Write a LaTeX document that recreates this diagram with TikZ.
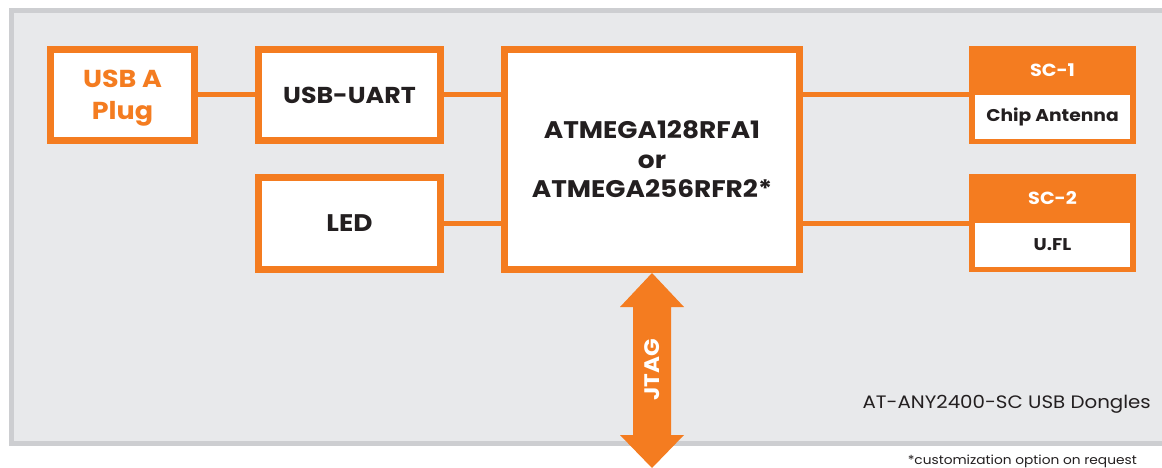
\documentclass[tikz,border=0pt]{standalone}
\usepackage{fontspec}
\setmainfont{Poppins}[FakeStretch=1.1]
\usetikzlibrary{calc}
\definecolor{org}{RGB}{244,124,32}
\definecolor{panel}{RGB}{232,233,235}
\definecolor{panelline}{RGB}{205,206,209}
\definecolor{ink}{RGB}{35,31,32}
\begin{document}
\begin{tikzpicture}[x=1pt,y=-1pt,
  blk/.style={draw=org, line width=7pt, fill=white, inner sep=0pt, text=ink, align=center,
    font=\bfseries\fontsize{24}{29.5}\selectfont},
  wire/.style={draw=org, line width=5pt},
  scbox/.style={fill=org, inner sep=0pt, minimum width=167pt, minimum height=98pt},
  scin/.style={fill=white, inner sep=0pt, minimum width=155pt, minimum height=44pt, text=ink,
    font=\bfseries\fontsize{17}{20}\selectfont},
  schdr/.style={text=white, inner sep=0pt, font=\bfseries\fontsize{17.5}{20}\selectfont}]
\useasboundingbox (0,0) rectangle (1162,468);
\fill[white] (0,0) rectangle (1162,468);
\draw[panelline, line width=5pt, fill=panel] (11.5,10.5) rectangle (1180,443.5);

\node[blk, minimum width=144pt, minimum height=91pt, text=org, text depth=0pt, font=\bfseries\fontsize{24.5}{32}\selectfont] (usb) at (122.5,95) {USB A\\Plug};
\node[blk, minimum width=182pt, minimum height=91pt, font=\bfseries\fontsize{23}{28}\selectfont] (uart) at (349.5,95) {USB-UART};
\node[blk, minimum width=182pt, minimum height=92pt] (led) at (349.5,223.5) {LED};
\node[blk, minimum width=295pt, minimum height=220pt] (main) at (652,159.5) {ATMEGA128RFA1\\or\\ATMEGA256RFR2*};

\node[scbox] (sc1) at (1052.5,95) {};
\node[schdr] (sc1h) at (1052.5,70.5) {SC-1};
\node[scin] (sc1i) at (1052.5,117) {Chip Antenna};
\node[scbox] (sc2) at (1052.5,223) {};
\node[schdr] (sc2h) at (1052.5,198.5) {SC-2};
\node[scin] (sc2i) at (1052.5,245) {U.FL};

\draw[wire] (usb.east) -- (uart.west);
\draw[wire] (uart.east) -- (uart.east -| main.west);
\draw[wire] (led.east) -- (led.east -| main.west);
\draw[wire] (sc1.west -| main.east) -- (sc1.west);
\draw[wire] (sc2.west -| main.east) -- (sc2.west);

\coordinate (jt) at (652,468);
\fill[org] (main.south) -- ++(32,34) -- ++(-13,0) -- ($(jt)+(19,-33)$) -- ++(13,0) -- (jt)
  -- ++(-32,-33) -- ++(13,0) -- ($(main.south)+(-19,34)$) -- ++(-13,0) -- cycle;
\node[rotate=90, text=white, inner sep=0pt, font=\bfseries\fontsize{21}{24}\selectfont] (jtag) at (652,370) {JTAG};

\node[anchor=base east, inner sep=0pt, text=ink, font=\fontsize{18}{21}\selectfont] (title) at (1151,408) {AT-ANY2400-SC USB Dongles};
\node[anchor=base east, inner sep=0pt, text=ink, font=\fontsize{12.5}{14}\selectfont] (note) at (1137,464) {*customization option on request};
\end{tikzpicture}
\end{document}
